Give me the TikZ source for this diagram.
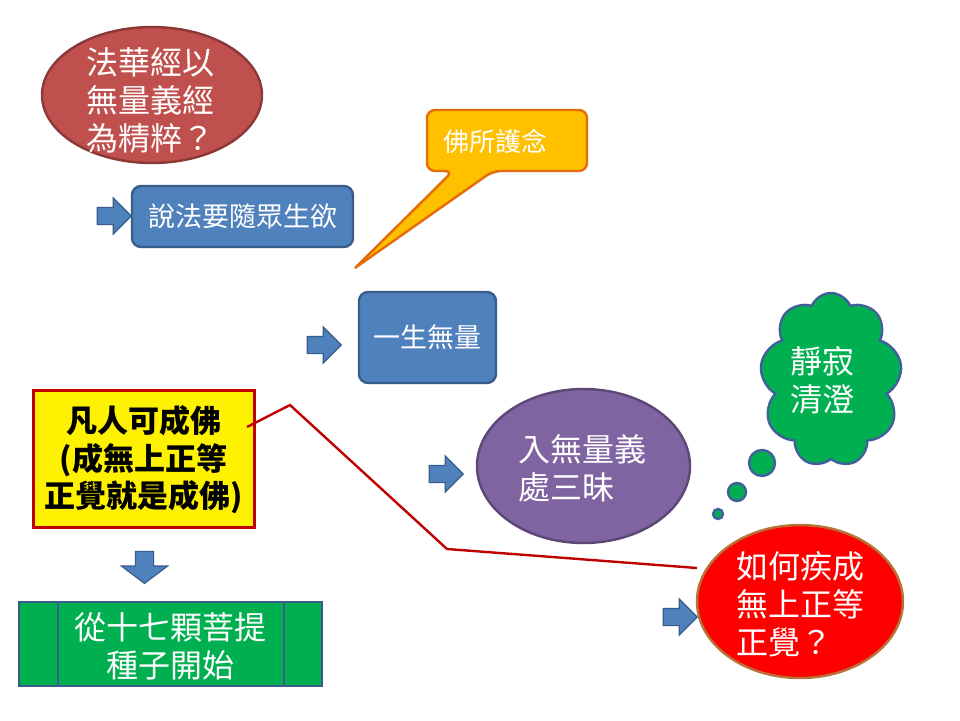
\documentclass[tikz,border=0pt]{standalone}
\usepackage{fontspec}
\setmainfont{Noto Sans CJK TC}
\usetikzlibrary{shapes.geometric,shapes.symbols,shapes.arrows}
\definecolor{bfill}{HTML}{4F81BD}
\definecolor{bline}{HTML}{385D8A}
\definecolor{rfill}{HTML}{C0504D}
\definecolor{rline}{HTML}{8C3836}
\definecolor{pfill}{HTML}{8064A2}
\definecolor{pline}{HTML}{5C4776}
\definecolor{gfill}{HTML}{00B050}
\definecolor{cline}{HTML}{41609A}
\definecolor{ofill}{HTML}{FFC000}
\definecolor{oline}{HTML}{E46C0A}
\definecolor{dred}{HTML}{C00000}
\definecolor{brn}{HTML}{B8733A}
\tikzset{
  bigtxt/.style={font=\fontsize{32}{38}\selectfont, text=white},
  bluebox/.style={draw=bline, line width=2.4pt, fill=bfill, rounded corners=9pt, text=white},
  rarrow/.style={single arrow, draw=bline, line width=1.2pt, fill=bfill, inner sep=8pt,
    single arrow head extend=9.5pt, minimum height=34pt, single arrow tip angle=90, shape border rotate=0},
  ell/.style={ellipse, line width=2.4pt, inner sep=0pt},
  bubble/.style={circle, draw=cline, fill=gfill, line width=2.4pt, inner sep=0pt},
}
\begin{document}
\begin{tikzpicture}[x=1pt,y=-1pt]
\useasboundingbox (0,0) rectangle (960,720);
\fill[white] (0,0) rectangle (960,720);

% top red ellipse
\node[ell, draw=rline, fill=rfill, minimum width=220pt, minimum height=136pt] (q1) at (152,95) {};
\node[bigtxt, align=left] (q1t) at (150,100) {法華經以\\無量義經\\為精粹？};

% arrow and first blue box
\node[rarrow] (a1) at (110,216) {};
\node[bluebox, minimum width=221pt, minimum height=61pt, font=\fontsize{27}{30}\selectfont] (b1) at (242.5,216.5) {說法要隨眾生欲};

% callout
\coordinate (tip) at (355,268);
\draw[draw=oline, fill=ofill, line width=2.4pt, line join=miter]
  (tip) [rounded corners=8pt] -- (453,171) -- (427,171) -- (427,110) -- (587,110) -- (587,171) -- (493,171) [sharp corners] -- cycle;
\node[text=white, font=\fontsize{26}{30}\selectfont] (c1) at (495,141) {佛所護念};

% second arrow and box
\node[rarrow] (a2) at (320,345) {};
\node[bluebox, minimum width=137pt, minimum height=91pt, font=\fontsize{27}{30}\selectfont] (b2) at (427.5,337.5) {一生無量};

% cloud
\node[cloud, cloud puffs=9, cloud puff arc=135, cloud ignores aspect, draw=cline, fill=gfill, line width=2.4pt,
  minimum width=142pt, minimum height=174pt] (cl) at (831,380) {};
\node[bigtxt, align=left] (clt) at (822,380) {靜寂\\清澄};
\node[bubble, minimum size=26pt] (d1) at (762,463) {};
\node[bubble, minimum size=18pt] (d2) at (737,492) {};
\node[bubble, minimum size=10pt] (d3) at (718,514) {};

% purple ellipse
\node[rarrow] (a3) at (442,474) {};
\node[ell, draw=pline, fill=pfill, minimum width=213pt, minimum height=154pt] (p1) at (583.5,466) {};
\node[bigtxt, align=left] (p1t) at (582,468) {入無量義\\處三昧};

% red ellipse
\node[rarrow] (a4) at (676,617) {};
\node[ell, draw=brn, fill=red, minimum width=206pt, minimum height=153pt] (r1) at (800,601.5) {};
\node[bigtxt, align=left] (r1t) at (800,604) {如何疾成\\無上正等\\正覺？};

% yellow box
\node[draw=dred, fill=yellow, line width=3pt, minimum width=221pt, minimum height=137pt] (y1) at (143.5,458.5) {};
\node[font=\fontsize{31}{37.5}\selectfont\bfseries, align=center] (y1t) at (143.5,460) {凡人可成佛\\(成無上正等\\正覺就是成佛)};

% red connector
\coordinate (s1) at (247,427);
\coordinate (k1) at (290,405);
\coordinate (k2) at (447,549);
\coordinate (e1) at (697,568);
\draw[dred, line width=2.4pt] (s1) -- (k1) -- (k2) -- (e1);

% down arrow
\node[single arrow, draw=bline, line width=1.2pt, fill=bfill, inner sep=8.5pt,
  single arrow head extend=14pt, minimum height=32pt, single arrow tip angle=106, shape border rotate=270] (a5) at (144.5,564) {};

% green box
\node[draw=bline, fill=gfill, line width=2.4pt, minimum width=303pt, minimum height=84pt] (g1) at (170.5,644) {};
\draw[bline, line width=2.4pt] (58,602) -- (58,686) (284,602) -- (284,686);
\node[bigtxt, align=center] (g1t) at (170.5,646) {從十七顆菩提\\種子開始};
\end{tikzpicture}
\end{document}
